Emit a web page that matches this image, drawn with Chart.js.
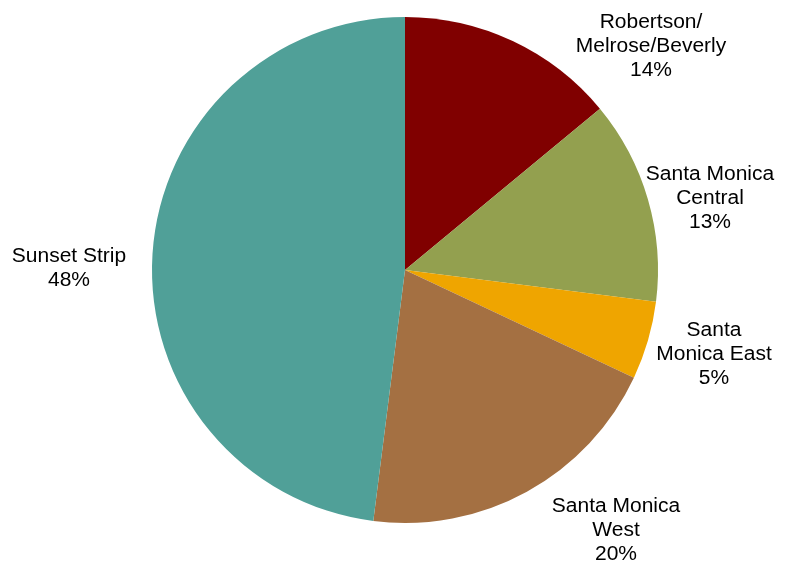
<!DOCTYPE html>
<html>
<head>
<meta charset="utf-8">
<script src="https://cdn.jsdelivr.net/npm/chart.js@4/dist/chart.umd.min.js"></script>
<style>
  html, body { margin: 0; padding: 0; background: #fff; }
  #wrap { width: 793px; height: 565px; position: relative; }
</style>
</head>
<body>
<div id="wrap"><canvas id="pieChart"></canvas></div>
<script>
// Share of listings by area (percent)
const areas = [
  ['Robertson/', 'Melrose/Beverly'],
  ['Santa Monica', 'Central'],
  ['Santa', 'Monica East'],
  ['Santa Monica', 'West'],
  ['Sunset Strip']
];
const shares = [14, 13, 5, 20, 48];
const sliceColors = ['#800000', '#93A04F', '#EFA500', '#A47042', '#50A098'];

// label anchor points (centre of each text block) on the canvas
const labelSpots = [[651, 46], [710, 198], [714, 354], [616, 530], [69, 268]];

const outsideLabels = {
  id: 'outsideLabels',
  afterDraw(chart) {
    const { ctx } = chart;
    const lineH = 24;
    chart.data.labels.forEach((lbl, i) => {
      const lines = [...lbl, chart.data.datasets[0].data[i] + '%'];
      const [cx, cy] = labelSpots[i];
      const top = cy - (lines.length - 1) * lineH / 2;
      ctx.save();
      ctx.translate(cx, top);
      ctx.scale(1.05, 1); // slightly wide lettering
      ctx.font = '20px "Liberation Sans", Arial, sans-serif';
      ctx.fillStyle = '#000';
      ctx.textAlign = 'center';
      ctx.textBaseline = 'middle';
      lines.forEach((t, j) => ctx.fillText(t, 0, j * lineH));
      ctx.restore();
    });
  }
};

new Chart(document.getElementById('pieChart'), {
  type: 'pie',
  data: {
    labels: areas,
    datasets: [{
      data: shares,
      backgroundColor: sliceColors,
      borderWidth: 0
    }]
  },
  options: {
    responsive: true,
    maintainAspectRatio: false,
    animation: false,
    layout: { padding: { top: 17, bottom: 42, left: 152, right: 135 } },
    plugins: {
      legend: { display: false },
      tooltip: { enabled: false }
    }
  },
  plugins: [outsideLabels]
});
</script>
</body>
</html>
